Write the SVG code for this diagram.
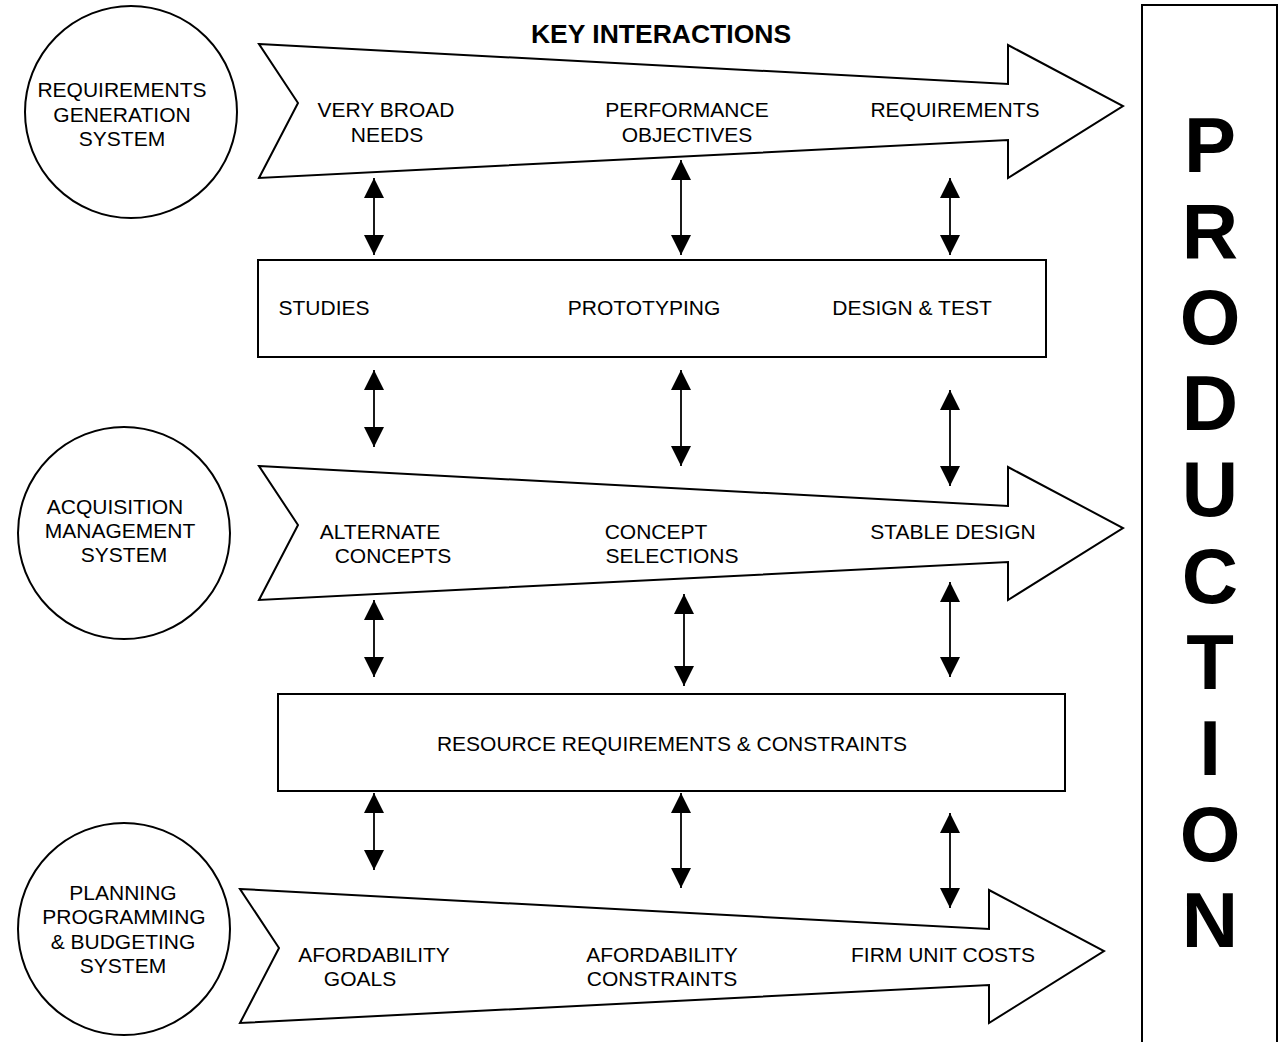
<svg xmlns="http://www.w3.org/2000/svg" width="1281" height="1042" viewBox="0 0 1281 1042">
<defs>
<style>
.s{fill:#fff;stroke:#000;stroke-width:2}
.t{font-family:"Liberation Sans",Arial,sans-serif;font-size:21px;fill:#000;text-anchor:middle}
.b{font-family:"Liberation Sans",Arial,sans-serif;font-weight:bold;fill:#000;text-anchor:middle}
.c{stroke:#000;stroke-width:1.8;fill:none;marker-start:url(#ah);marker-end:url(#ah)}
</style>
<marker id="ah" markerUnits="userSpaceOnUse" markerWidth="20" markerHeight="20" refX="20" refY="10" orient="auto-start-reverse" viewBox="0 0 20 20">
<path d="M0,0 L20,10 L0,20 z" fill="#000"/>
</marker>
<path id="arr" d="M259,44 L1008,84 L1008,45 L1123,106 L1008,178 L1008,140 L259,178 L298,103 Z"/>
</defs>
<rect width="1281" height="1042" fill="#fff"/>

<text class="b" x="661" y="43" font-size="26.5">KEY INTERACTIONS</text>

<g id="production">
<rect class="s" x="1142" y="5" width="135" height="1045"/>
<g class="b" font-size="78">
<text x="1210" y="172">P</text>
<text x="1210" y="258">R</text>
<text x="1210" y="344">O</text>
<text x="1210" y="430">D</text>
<text x="1210" y="516">U</text>
<text x="1210" y="603">C</text>
<text x="1210" y="689">T</text>
<text x="1210" y="775">I</text>
<text x="1210" y="861">O</text>
<text x="1210" y="947">N</text>
</g>
</g>

<g id="req-gen-system">
<circle class="s" cx="131" cy="112" r="106"/>
<text class="t" x="122" y="97">REQUIREMENTS</text>
<text class="t" x="122" y="122">GENERATION</text>
<text class="t" x="122" y="146">SYSTEM</text>
</g>

<g id="acq-mgmt-system">
<circle class="s" cx="124" cy="533" r="106"/>
<text class="t" x="115" y="514">ACQUISITION</text>
<text class="t" x="120" y="538">MANAGEMENT</text>
<text class="t" x="124" y="562">SYSTEM</text>
</g>

<g id="ppbs">
<circle class="s" cx="124" cy="929" r="106"/>
<text class="t" x="123" y="900">PLANNING</text>
<text class="t" x="124" y="924">PROGRAMMING</text>
<text class="t" x="123" y="949">&amp; BUDGETING</text>
<text class="t" x="123" y="973">SYSTEM</text>
</g>

<g id="arrow-requirements">
<use href="#arr" class="s"/>
<text class="t" x="386" y="117">VERY BROAD</text>
<text class="t" x="387" y="142">NEEDS</text>
<text class="t" x="687" y="117">PERFORMANCE</text>
<text class="t" x="687" y="142">OBJECTIVES</text>
<text class="t" x="955" y="117">REQUIREMENTS</text>
</g>

<g id="box-studies">
<rect class="s" x="258" y="260" width="788" height="97"/>
<text class="t" x="324" y="315">STUDIES</text>
<text class="t" x="644" y="315">PROTOTYPING</text>
<text class="t" x="912" y="315">DESIGN &amp; TEST</text>
</g>

<g id="arrow-acquisition">
<use href="#arr" class="s" transform="translate(0,422)"/>
<text class="t" x="380" y="539">ALTERNATE</text>
<text class="t" x="393" y="563">CONCEPTS</text>
<text class="t" x="656" y="539">CONCEPT</text>
<text class="t" x="672" y="563">SELECTIONS</text>
<text class="t" x="953" y="539">STABLE DESIGN</text>
</g>

<g id="box-resources">
<rect class="s" x="278" y="694" width="787" height="97"/>
<text class="t" x="672" y="751">RESOURCE REQUIREMENTS &amp; CONSTRAINTS</text>
</g>

<g id="arrow-ppbs">
<use href="#arr" class="s" transform="translate(-19,845)"/>
<text class="t" x="374" y="962">AFORDABILITY</text>
<text class="t" x="360" y="986">GOALS</text>
<text class="t" x="662" y="962">AFORDABILITY</text>
<text class="t" x="662" y="986">CONSTRAINTS</text>
<text class="t" x="943" y="962">FIRM UNIT COSTS</text>
</g>

<g id="connectors">
<line class="c" x1="374" y1="178" x2="374" y2="255"/>
<line class="c" x1="681" y1="160" x2="681" y2="255"/>
<line class="c" x1="950" y1="178" x2="950" y2="255"/>
<line class="c" x1="374" y1="370" x2="374" y2="447"/>
<line class="c" x1="681" y1="370" x2="681" y2="466"/>
<line class="c" x1="950" y1="390" x2="950" y2="486"/>
<line class="c" x1="374" y1="600" x2="374" y2="677"/>
<line class="c" x1="684" y1="594" x2="684" y2="686"/>
<line class="c" x1="950" y1="582" x2="950" y2="677"/>
<line class="c" x1="374" y1="793" x2="374" y2="870"/>
<line class="c" x1="681" y1="793" x2="681" y2="888"/>
<line class="c" x1="950" y1="813" x2="950" y2="908"/>
</g>
</svg>
